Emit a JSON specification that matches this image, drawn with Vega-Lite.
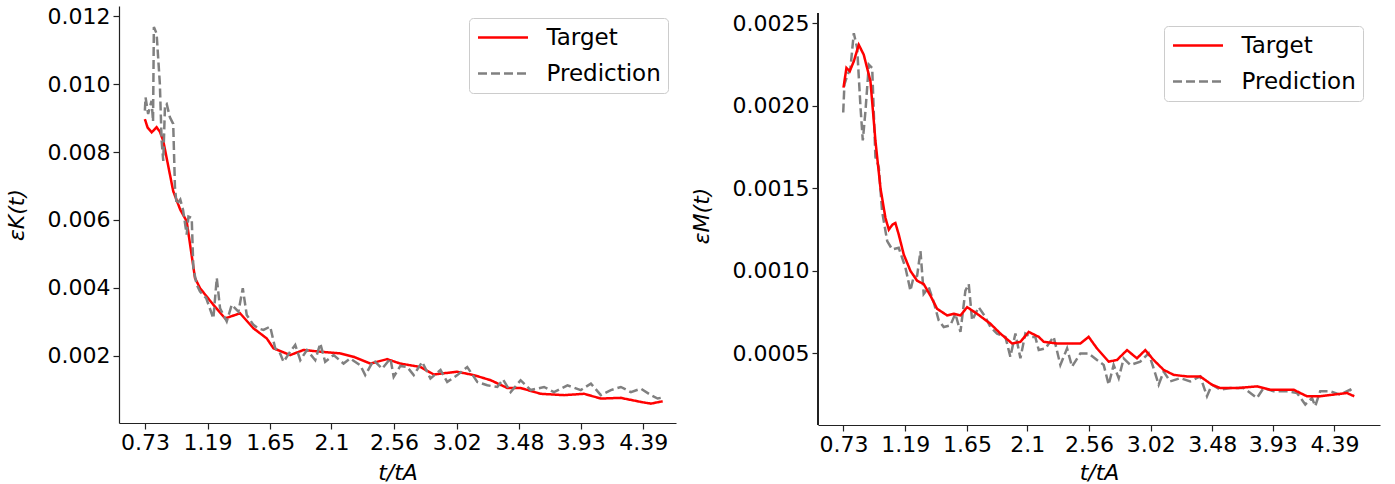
{
  "$schema": "https://vega.github.io/schema/vega-lite/v6.json",
  "padding": {"left": 5, "top": 5, "right": 5, "bottom": 0},
  "spacing": 14,
  "datasets": {
    "K": [
      {"t": 0.73, "v": 0.00897, "series": "Target"},
      {"t": 0.75, "v": 0.00872, "series": "Target"},
      {"t": 0.78, "v": 0.00858, "series": "Target"},
      {"t": 0.816, "v": 0.00873, "series": "Target"},
      {"t": 0.84, "v": 0.0086, "series": "Target"},
      {"t": 0.865, "v": 0.00833, "series": "Target"},
      {"t": 0.938, "v": 0.00685, "series": "Target"},
      {"t": 0.99, "v": 0.0063, "series": "Target"},
      {"t": 1.037, "v": 0.00596, "series": "Target"},
      {"t": 1.098, "v": 0.00429, "series": "Target"},
      {"t": 1.135, "v": 0.00399, "series": "Target"},
      {"t": 1.233, "v": 0.0035, "series": "Target"},
      {"t": 1.319, "v": 0.0031, "series": "Target"},
      {"t": 1.429, "v": 0.00325, "series": "Target"},
      {"t": 1.527, "v": 0.00281, "series": "Target"},
      {"t": 1.625, "v": 0.00251, "series": "Target"},
      {"t": 1.674, "v": 0.00222, "series": "Target"},
      {"t": 1.797, "v": 0.00202, "series": "Target"},
      {"t": 1.895, "v": 0.00217, "series": "Target"},
      {"t": 2.018, "v": 0.00212, "series": "Target"},
      {"t": 2.165, "v": 0.00207, "series": "Target"},
      {"t": 2.263, "v": 0.00197, "series": "Target"},
      {"t": 2.386, "v": 0.00177, "series": "Target"},
      {"t": 2.508, "v": 0.0019, "series": "Target"},
      {"t": 2.606, "v": 0.00177, "series": "Target"},
      {"t": 2.753, "v": 0.00167, "series": "Target"},
      {"t": 2.851, "v": 0.00145, "series": "Target"},
      {"t": 3.024, "v": 0.00153, "series": "Target"},
      {"t": 3.146, "v": 0.00143, "series": "Target"},
      {"t": 3.269, "v": 0.00128, "series": "Target"},
      {"t": 3.392, "v": 0.00105, "series": "Target"},
      {"t": 3.489, "v": 0.00105, "series": "Target"},
      {"t": 3.637, "v": 0.00088, "series": "Target"},
      {"t": 3.808, "v": 0.00084, "series": "Target"},
      {"t": 3.955, "v": 0.00088, "series": "Target"},
      {"t": 4.078, "v": 0.00074, "series": "Target"},
      {"t": 4.225, "v": 0.00076, "series": "Target"},
      {"t": 4.372, "v": 0.00064, "series": "Target"},
      {"t": 4.446, "v": 0.00059, "series": "Target"},
      {"t": 4.532, "v": 0.00066, "series": "Target"},
      {"t": 0.73, "v": 0.00922, "series": "Prediction"},
      {"t": 0.735, "v": 0.00961, "series": "Prediction"},
      {"t": 0.754, "v": 0.00912, "series": "Prediction"},
      {"t": 0.779, "v": 0.00951, "series": "Prediction"},
      {"t": 0.79, "v": 0.0089, "series": "Prediction"},
      {"t": 0.796, "v": 0.01168, "series": "Prediction"},
      {"t": 0.816, "v": 0.01149, "series": "Prediction"},
      {"t": 0.84, "v": 0.01001, "series": "Prediction"},
      {"t": 0.853, "v": 0.00833, "series": "Prediction"},
      {"t": 0.865, "v": 0.00774, "series": "Prediction"},
      {"t": 0.878, "v": 0.0094, "series": "Prediction"},
      {"t": 0.89, "v": 0.00942, "series": "Prediction"},
      {"t": 0.914, "v": 0.00902, "series": "Prediction"},
      {"t": 0.938, "v": 0.00883, "series": "Prediction"},
      {"t": 0.951, "v": 0.00695, "series": "Prediction"},
      {"t": 0.963, "v": 0.00646, "series": "Prediction"},
      {"t": 0.99, "v": 0.0066, "series": "Prediction"},
      {"t": 1.01, "v": 0.0063, "series": "Prediction"},
      {"t": 1.037, "v": 0.00557, "series": "Prediction"},
      {"t": 1.05, "v": 0.0061, "series": "Prediction"},
      {"t": 1.074, "v": 0.00606, "series": "Prediction"},
      {"t": 1.086, "v": 0.00458, "series": "Prediction"},
      {"t": 1.11, "v": 0.0041, "series": "Prediction"},
      {"t": 1.135, "v": 0.00389, "series": "Prediction"},
      {"t": 1.18, "v": 0.0037, "series": "Prediction"},
      {"t": 1.233, "v": 0.0031, "series": "Prediction"},
      {"t": 1.258, "v": 0.00429, "series": "Prediction"},
      {"t": 1.282, "v": 0.0034, "series": "Prediction"},
      {"t": 1.331, "v": 0.00301, "series": "Prediction"},
      {"t": 1.368, "v": 0.0035, "series": "Prediction"},
      {"t": 1.417, "v": 0.0033, "series": "Prediction"},
      {"t": 1.449, "v": 0.00399, "series": "Prediction"},
      {"t": 1.478, "v": 0.0032, "series": "Prediction"},
      {"t": 1.527, "v": 0.00291, "series": "Prediction"},
      {"t": 1.565, "v": 0.0028, "series": "Prediction"},
      {"t": 1.601, "v": 0.00276, "series": "Prediction"},
      {"t": 1.65, "v": 0.00286, "series": "Prediction"},
      {"t": 1.687, "v": 0.00222, "series": "Prediction"},
      {"t": 1.72, "v": 0.0021, "series": "Prediction"},
      {"t": 1.748, "v": 0.00182, "series": "Prediction"},
      {"t": 1.797, "v": 0.00212, "series": "Prediction"},
      {"t": 1.834, "v": 0.00232, "series": "Prediction"},
      {"t": 1.871, "v": 0.00187, "series": "Prediction"},
      {"t": 1.92, "v": 0.00217, "series": "Prediction"},
      {"t": 1.981, "v": 0.00187, "series": "Prediction"},
      {"t": 2.018, "v": 0.00236, "series": "Prediction"},
      {"t": 2.054, "v": 0.00182, "series": "Prediction"},
      {"t": 2.116, "v": 0.00202, "series": "Prediction"},
      {"t": 2.189, "v": 0.00177, "series": "Prediction"},
      {"t": 2.238, "v": 0.00192, "series": "Prediction"},
      {"t": 2.312, "v": 0.00172, "series": "Prediction"},
      {"t": 2.348, "v": 0.00143, "series": "Prediction"},
      {"t": 2.41, "v": 0.00187, "series": "Prediction"},
      {"t": 2.472, "v": 0.00162, "series": "Prediction"},
      {"t": 2.533, "v": 0.00192, "series": "Prediction"},
      {"t": 2.557, "v": 0.00138, "series": "Prediction"},
      {"t": 2.606, "v": 0.0017, "series": "Prediction"},
      {"t": 2.656, "v": 0.00167, "series": "Prediction"},
      {"t": 2.704, "v": 0.00143, "series": "Prediction"},
      {"t": 2.766, "v": 0.00182, "series": "Prediction"},
      {"t": 2.827, "v": 0.00133, "series": "Prediction"},
      {"t": 2.901, "v": 0.00158, "series": "Prediction"},
      {"t": 2.95, "v": 0.00123, "series": "Prediction"},
      {"t": 3.024, "v": 0.00143, "series": "Prediction"},
      {"t": 3.097, "v": 0.00167, "series": "Prediction"},
      {"t": 3.171, "v": 0.00123, "series": "Prediction"},
      {"t": 3.244, "v": 0.00113, "series": "Prediction"},
      {"t": 3.318, "v": 0.00108, "series": "Prediction"},
      {"t": 3.36, "v": 0.0013, "series": "Prediction"},
      {"t": 3.416, "v": 0.00093, "series": "Prediction"},
      {"t": 3.489, "v": 0.00128, "series": "Prediction"},
      {"t": 3.563, "v": 0.00099, "series": "Prediction"},
      {"t": 3.661, "v": 0.00108, "series": "Prediction"},
      {"t": 3.734, "v": 0.00093, "series": "Prediction"},
      {"t": 3.833, "v": 0.00113, "series": "Prediction"},
      {"t": 3.931, "v": 0.00099, "series": "Prediction"},
      {"t": 4.005, "v": 0.00118, "series": "Prediction"},
      {"t": 4.078, "v": 0.00084, "series": "Prediction"},
      {"t": 4.152, "v": 0.00099, "series": "Prediction"},
      {"t": 4.225, "v": 0.00108, "series": "Prediction"},
      {"t": 4.299, "v": 0.00093, "series": "Prediction"},
      {"t": 4.372, "v": 0.00103, "series": "Prediction"},
      {"t": 4.446, "v": 0.00084, "series": "Prediction"},
      {"t": 4.495, "v": 0.00074, "series": "Prediction"},
      {"t": 4.53, "v": 0.00077, "series": "Prediction"}
    ],
    "M": [
      {"t": 0.728, "v": 0.00196, "series": "Prediction"},
      {"t": 0.737, "v": 0.00213, "series": "Prediction"},
      {"t": 0.757, "v": 0.00218, "series": "Prediction"},
      {"t": 0.782, "v": 0.00223, "series": "Prediction"},
      {"t": 0.807, "v": 0.00244, "series": "Prediction"},
      {"t": 0.832, "v": 0.00235, "series": "Prediction"},
      {"t": 0.857, "v": 0.00199, "series": "Prediction"},
      {"t": 0.874, "v": 0.00179, "series": "Prediction"},
      {"t": 0.894, "v": 0.00197, "series": "Prediction"},
      {"t": 0.919, "v": 0.00225, "series": "Prediction"},
      {"t": 0.944, "v": 0.00223, "series": "Prediction"},
      {"t": 0.968, "v": 0.00169, "series": "Prediction"},
      {"t": 0.993, "v": 0.00163, "series": "Prediction"},
      {"t": 1.018, "v": 0.00136, "series": "Prediction"},
      {"t": 1.056, "v": 0.00118, "series": "Prediction"},
      {"t": 1.093, "v": 0.00113, "series": "Prediction"},
      {"t": 1.142, "v": 0.00114, "series": "Prediction"},
      {"t": 1.192, "v": 0.00102, "series": "Prediction"},
      {"t": 1.229, "v": 0.00088, "series": "Prediction"},
      {"t": 1.249, "v": 0.00095, "series": "Prediction"},
      {"t": 1.279, "v": 0.00097, "series": "Prediction"},
      {"t": 1.304, "v": 0.00112, "series": "Prediction"},
      {"t": 1.328, "v": 0.00086, "series": "Prediction"},
      {"t": 1.366, "v": 0.0009, "series": "Prediction"},
      {"t": 1.403, "v": 0.00081, "series": "Prediction"},
      {"t": 1.44, "v": 0.0007, "series": "Prediction"},
      {"t": 1.477, "v": 0.00066, "series": "Prediction"},
      {"t": 1.527, "v": 0.00067, "series": "Prediction"},
      {"t": 1.564, "v": 0.00074, "series": "Prediction"},
      {"t": 1.602, "v": 0.00063, "series": "Prediction"},
      {"t": 1.639, "v": 0.00088, "series": "Prediction"},
      {"t": 1.664, "v": 0.00092, "series": "Prediction"},
      {"t": 1.689, "v": 0.0007, "series": "Prediction"},
      {"t": 1.738, "v": 0.00078, "series": "Prediction"},
      {"t": 1.788, "v": 0.00072, "series": "Prediction"},
      {"t": 1.825, "v": 0.00066, "series": "Prediction"},
      {"t": 1.875, "v": 0.00062, "series": "Prediction"},
      {"t": 1.937, "v": 0.0006, "series": "Prediction"},
      {"t": 1.974, "v": 0.00048, "series": "Prediction"},
      {"t": 2.012, "v": 0.00062, "series": "Prediction"},
      {"t": 2.049, "v": 0.00047, "series": "Prediction"},
      {"t": 2.086, "v": 0.00062, "series": "Prediction"},
      {"t": 2.123, "v": 0.0006, "series": "Prediction"},
      {"t": 2.16, "v": 0.0006, "series": "Prediction"},
      {"t": 2.186, "v": 0.00052, "series": "Prediction"},
      {"t": 2.235, "v": 0.00053, "series": "Prediction"},
      {"t": 2.297, "v": 0.0006, "series": "Prediction"},
      {"t": 2.347, "v": 0.00043, "series": "Prediction"},
      {"t": 2.397, "v": 0.00053, "series": "Prediction"},
      {"t": 2.434, "v": 0.00042, "series": "Prediction"},
      {"t": 2.496, "v": 0.0005, "series": "Prediction"},
      {"t": 2.558, "v": 0.0005, "series": "Prediction"},
      {"t": 2.62, "v": 0.00046, "series": "Prediction"},
      {"t": 2.67, "v": 0.00043, "series": "Prediction"},
      {"t": 2.707, "v": 0.00031, "series": "Prediction"},
      {"t": 2.744, "v": 0.00043, "series": "Prediction"},
      {"t": 2.782, "v": 0.00035, "series": "Prediction"},
      {"t": 2.819, "v": 0.00047, "series": "Prediction"},
      {"t": 2.869, "v": 0.00043, "series": "Prediction"},
      {"t": 2.943, "v": 0.00045, "series": "Prediction"},
      {"t": 3.005, "v": 0.0005, "series": "Prediction"},
      {"t": 3.042, "v": 0.00041, "series": "Prediction"},
      {"t": 3.08, "v": 0.00031, "series": "Prediction"},
      {"t": 3.117, "v": 0.00039, "series": "Prediction"},
      {"t": 3.166, "v": 0.00033, "series": "Prediction"},
      {"t": 3.241, "v": 0.00035, "series": "Prediction"},
      {"t": 3.315, "v": 0.00033, "series": "Prediction"},
      {"t": 3.39, "v": 0.00036, "series": "Prediction"},
      {"t": 3.44, "v": 0.00024, "series": "Prediction"},
      {"t": 3.477, "v": 0.00031, "series": "Prediction"},
      {"t": 3.539, "v": 0.00028, "series": "Prediction"},
      {"t": 3.614, "v": 0.00029, "series": "Prediction"},
      {"t": 3.713, "v": 0.00029, "series": "Prediction"},
      {"t": 3.813, "v": 0.00023, "series": "Prediction"},
      {"t": 3.862, "v": 0.00029, "series": "Prediction"},
      {"t": 3.937, "v": 0.00027, "series": "Prediction"},
      {"t": 4.036, "v": 0.00027, "series": "Prediction"},
      {"t": 4.111, "v": 0.00026, "series": "Prediction"},
      {"t": 4.173, "v": 0.00019, "series": "Prediction"},
      {"t": 4.223, "v": 0.00023, "series": "Prediction"},
      {"t": 4.247, "v": 0.00018, "series": "Prediction"},
      {"t": 4.284, "v": 0.00027, "series": "Prediction"},
      {"t": 4.359, "v": 0.00027, "series": "Prediction"},
      {"t": 4.433, "v": 0.00025, "series": "Prediction"},
      {"t": 4.508, "v": 0.00028, "series": "Prediction"},
      {"t": 4.533, "v": 0.00025, "series": "Prediction"},
      {"t": 0.73, "v": 0.00211, "series": "Target"},
      {"t": 0.752, "v": 0.00223, "series": "Target"},
      {"t": 0.777, "v": 0.00221, "series": "Target"},
      {"t": 0.807, "v": 0.00227, "series": "Target"},
      {"t": 0.844, "v": 0.00237, "series": "Target"},
      {"t": 0.881, "v": 0.00231, "series": "Target"},
      {"t": 0.931, "v": 0.00215, "series": "Target"},
      {"t": 0.968, "v": 0.00179, "series": "Target"},
      {"t": 1.006, "v": 0.0015, "series": "Target"},
      {"t": 1.043, "v": 0.00132, "series": "Target"},
      {"t": 1.068, "v": 0.00125, "series": "Target"},
      {"t": 1.095, "v": 0.00128, "series": "Target"},
      {"t": 1.117, "v": 0.00129, "series": "Target"},
      {"t": 1.142, "v": 0.00122, "series": "Target"},
      {"t": 1.179, "v": 0.0011, "series": "Target"},
      {"t": 1.229, "v": 0.001, "series": "Target"},
      {"t": 1.279, "v": 0.00094, "series": "Target"},
      {"t": 1.328, "v": 0.00092, "series": "Target"},
      {"t": 1.378, "v": 0.00085, "series": "Target"},
      {"t": 1.428, "v": 0.00077, "series": "Target"},
      {"t": 1.503, "v": 0.00073, "series": "Target"},
      {"t": 1.552, "v": 0.00074, "series": "Target"},
      {"t": 1.602, "v": 0.00073, "series": "Target"},
      {"t": 1.652, "v": 0.00078, "series": "Target"},
      {"t": 1.726, "v": 0.00074, "series": "Target"},
      {"t": 1.825, "v": 0.00068, "series": "Target"},
      {"t": 1.9, "v": 0.00062, "series": "Target"},
      {"t": 1.987, "v": 0.00056, "series": "Target"},
      {"t": 2.049, "v": 0.00057, "series": "Target"},
      {"t": 2.111, "v": 0.00063, "series": "Target"},
      {"t": 2.186, "v": 0.0006, "series": "Target"},
      {"t": 2.223, "v": 0.00057, "series": "Target"},
      {"t": 2.322, "v": 0.00056, "series": "Target"},
      {"t": 2.496, "v": 0.00056, "series": "Target"},
      {"t": 2.558, "v": 0.0006, "series": "Target"},
      {"t": 2.62, "v": 0.00053, "series": "Target"},
      {"t": 2.707, "v": 0.00045, "series": "Target"},
      {"t": 2.769, "v": 0.00046, "series": "Target"},
      {"t": 2.844, "v": 0.00052, "series": "Target"},
      {"t": 2.918, "v": 0.00047, "series": "Target"},
      {"t": 2.98, "v": 0.00052, "series": "Target"},
      {"t": 3.042, "v": 0.00046, "series": "Target"},
      {"t": 3.117, "v": 0.0004, "series": "Target"},
      {"t": 3.191, "v": 0.00037, "series": "Target"},
      {"t": 3.291, "v": 0.00036, "series": "Target"},
      {"t": 3.39, "v": 0.00036, "series": "Target"},
      {"t": 3.477, "v": 0.00031, "series": "Target"},
      {"t": 3.539, "v": 0.00029, "series": "Target"},
      {"t": 3.664, "v": 0.00029, "series": "Target"},
      {"t": 3.813, "v": 0.0003, "series": "Target"},
      {"t": 3.912, "v": 0.00028, "series": "Target"},
      {"t": 4.086, "v": 0.00028, "series": "Target"},
      {"t": 4.185, "v": 0.00024, "series": "Target"},
      {"t": 4.284, "v": 0.00024, "series": "Target"},
      {"t": 4.383, "v": 0.00025, "series": "Target"},
      {"t": 4.483, "v": 0.00026, "series": "Target"},
      {"t": 4.538, "v": 0.00024, "series": "Target"}
    ]
  },
  "config": {
    "font": "DejaVu Sans",
    "view": {"stroke": null},
    "axis": {
      "grid": false,
      "domainColor": "#222222",
      "tickColor": "#222222",
      "labelColor": "#000000",
      "titleColor": "#000000",
      "labelFontSize": 22,
      "titleFontSize": 22,
      "titleFontWeight": "normal",
      "titleFontStyle": "italic",
      "tickSize": 6,
      "labelPadding": 3,
      "domainWidth": 1.2,
      "tickWidth": 1.2
    },
    "legend": {
      "title": null,
      "orient": "none",
      "labelFontSize": 23,
      "labelColor": "#000000",
      "symbolType": "M-2.236,0H2.236",
      "symbolSize": 500,
      "symbolStrokeWidth": 2.5,
      "symbolOffset": 14.5,
      "labelOffset": 31,
      "padding": 7,
      "rowPadding": 11,
      "strokeColor": "#cccccc",
      "fillColor": "#ffffff",
      "cornerRadius": 4
    }
  },
  "hconcat": [
    {
      "width": 557,
      "height": 417,
      "data": {"name": "K"},
      "mark": {"type": "line", "strokeWidth": 2.5},
      "encoding": {
        "x": {
          "field": "t",
          "type": "quantitative",
          "scale": {"domain": [0.54, 4.63], "nice": false, "zero": false},
          "axis": {"values": [0.73, 1.19, 1.65, 2.1, 2.56, 3.02, 3.48, 3.93, 4.39], "format": ".2~f", "title": "t/tA", "titlePadding": 9}
        },
        "y": {
          "field": "v",
          "type": "quantitative",
          "scale": {"domain": [0.00002, 0.0123], "nice": false, "zero": false},
          "axis": {"values": [0.002, 0.004, 0.006, 0.008, 0.01, 0.012], "format": ".3f", "title": "εK(t)", "titlePadding": 19}
        },
        "color": {
          "field": "series",
          "type": "nominal",
          "scale": {"domain": ["Target", "Prediction"], "range": ["#ff0000", "#808080"]},
          "legend": {"legendX": 350, "legendY": 12}
        },
        "strokeDash": {
          "field": "series",
          "type": "nominal",
          "scale": {"domain": ["Target", "Prediction"], "range": [[1, 0], [9, 4]]},
          "legend": {"legendX": 350, "legendY": 12}
        }
      }
    },
    {
      "width": 562,
      "height": 419,
      "data": {"name": "M"},
      "encoding": {
        "x": {
          "field": "t",
          "type": "quantitative",
          "scale": {"domain": [0.54, 4.73], "nice": false, "zero": false},
          "axis": {"values": [0.73, 1.19, 1.65, 2.1, 2.56, 3.02, 3.48, 3.93, 4.39], "format": ".2~f", "title": "t/tA", "titlePadding": 7}
        },
        "y": {
          "field": "v",
          "type": "quantitative",
          "scale": {"domain": [0.000066, 0.002605], "nice": false, "zero": false},
          "axis": {"values": [0.0005, 0.001, 0.0015, 0.002, 0.0025], "format": ".4f", "title": "εM(t)", "titlePadding": 19, "domain": false}
        }
      },
      "layer": [
        {
          "mark": {"type": "rule", "color": "#222222", "strokeWidth": 1.2},
          "encoding": {
            "x": {"datum": 0.54},
            "y": {"datum": 0.000066},
            "y2": {"datum": 0.00256}
          }
        },
        {
          "mark": {"type": "line", "strokeWidth": 2.5},
          "encoding": {
            "color": {
              "field": "series",
              "type": "nominal",
              "scale": {"domain": ["Target", "Prediction"], "range": ["#ff0000", "#808080"]},
              "legend": {"legendX": 346, "legendY": 20}
            },
            "strokeDash": {
              "field": "series",
              "type": "nominal",
              "scale": {"domain": ["Target", "Prediction"], "range": [[1, 0], [9, 4]]},
              "legend": {"legendX": 346, "legendY": 20}
            }
          }
        }
      ]
    }
  ],
  "resolve": {"scale": {"color": "independent", "strokeDash": "independent"}}
}
